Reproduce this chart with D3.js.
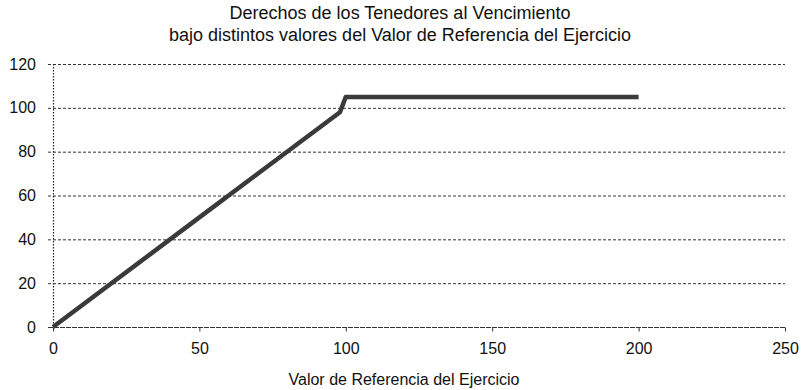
<!DOCTYPE html>
<html>
<head>
<meta charset="utf-8">
<script src="https://cdn.jsdelivr.net/npm/d3@7"></script>
<style>
  html, body { margin: 0; padding: 0; background: #fff; }
  svg { display: block; font-family: "Liberation Sans", Arial, sans-serif; }
</style>
</head>
<body>
<svg id="chart" width="801" height="390"></svg>
<script>
// Holder payoff at maturity versus the exercise reference value
const strikeValues = [0, 50, 98, 100, 150, 200];
const payoffValues = [0, 50, 98, 105, 105, 105];
const xTicks = [0, 50, 100, 150, 200, 250];
const yTicks = [0, 20, 40, 60, 80, 100, 120];
const titleLines = [
  "Derechos de los Tenedores al Vencimiento",
  "bajo distintos valores del Valor de Referencia del Ejercicio"
];
const xAxisTitle = "Valor de Referencia del Ejercicio";

(function () {
  const svg = d3.select("#chart");
  const plotLeft = 53, plotRight = 785, plotTop = 64, plotBottom = 327;
  const font = "Liberation Sans, Arial, sans-serif";

  const x = d3.scaleLinear().domain([0, 250]).range([plotLeft, plotRight]);
  const y = d3.scaleLinear().domain([0, 120]).range([plotBottom, plotTop]);

  // Horizontal gridlines (dashed) with short outer ticks
  svg.append("g").selectAll("line")
    .data(yTicks)
    .join("line")
    .attr("x1", plotLeft - 5)
    .attr("x2", plotRight)
    .attr("y1", d => y(d) + 0.5)
    .attr("y2", d => y(d) + 0.5)
    .attr("stroke", "#333")
    .attr("stroke-width", 1)
    .attr("stroke-dasharray", d => d === 0 ? "5,1" : "3,2");

  // Vertical axis line (dotted)
  svg.append("line")
    .attr("x1", plotLeft + 0.5).attr("x2", plotLeft + 0.5)
    .attr("y1", plotTop).attr("y2", plotBottom + 1)
    .attr("stroke", "#222")
    .attr("stroke-width", 1.2)
    .attr("stroke-dasharray", "1.5,1.5");

  // Axis tick labels via d3 axes
  const yAxis = d3.axisLeft(y).tickValues(yTicks).tickSize(0).tickPadding(17);
  const yG = svg.append("g").attr("transform", `translate(${plotLeft},0)`).call(yAxis);
  yG.select(".domain").remove();
  yG.selectAll("text").attr("font-size", 16).attr("fill", "#111")
    .attr("font-family", font);

  const xAxis = d3.axisBottom(x).tickValues(xTicks).tickSize(4).tickPadding(11);
  const xG = svg.append("g").attr("transform", `translate(0,${plotBottom + 0.5})`).call(xAxis);
  xG.select(".domain").remove();
  xG.selectAll("line").attr("stroke", "#333");
  xG.selectAll("text").attr("font-size", 16).attr("fill", "#111")
    .attr("font-family", font);

  // Payoff line
  const pts = strikeValues.map((v, i) => [v, payoffValues[i]]);
  svg.append("path")
    .datum(pts)
    .attr("fill", "none")
    .attr("stroke", "#3a3a3a")
    .attr("stroke-width", 4.5)
    .attr("stroke-linejoin", "round")
    .attr("d", d3.line().x(d => x(d[0])).y(d => y(d[1])));

  // Title
  svg.append("g").selectAll("text")
    .data(titleLines)
    .join("text")
    .attr("x", 400)
    .attr("y", (d, i) => 19 + i * 22)
    .attr("text-anchor", "middle")
    .attr("font-size", 18)
    .attr("fill", "#111")
    .text(d => d);

  // X axis title
  svg.append("text")
    .attr("x", 404)
    .attr("y", 385)
    .attr("text-anchor", "middle")
    .attr("font-size", 16)
    .attr("fill", "#111")
    .text(xAxisTitle);
})();
</script>
</body>
</html>
